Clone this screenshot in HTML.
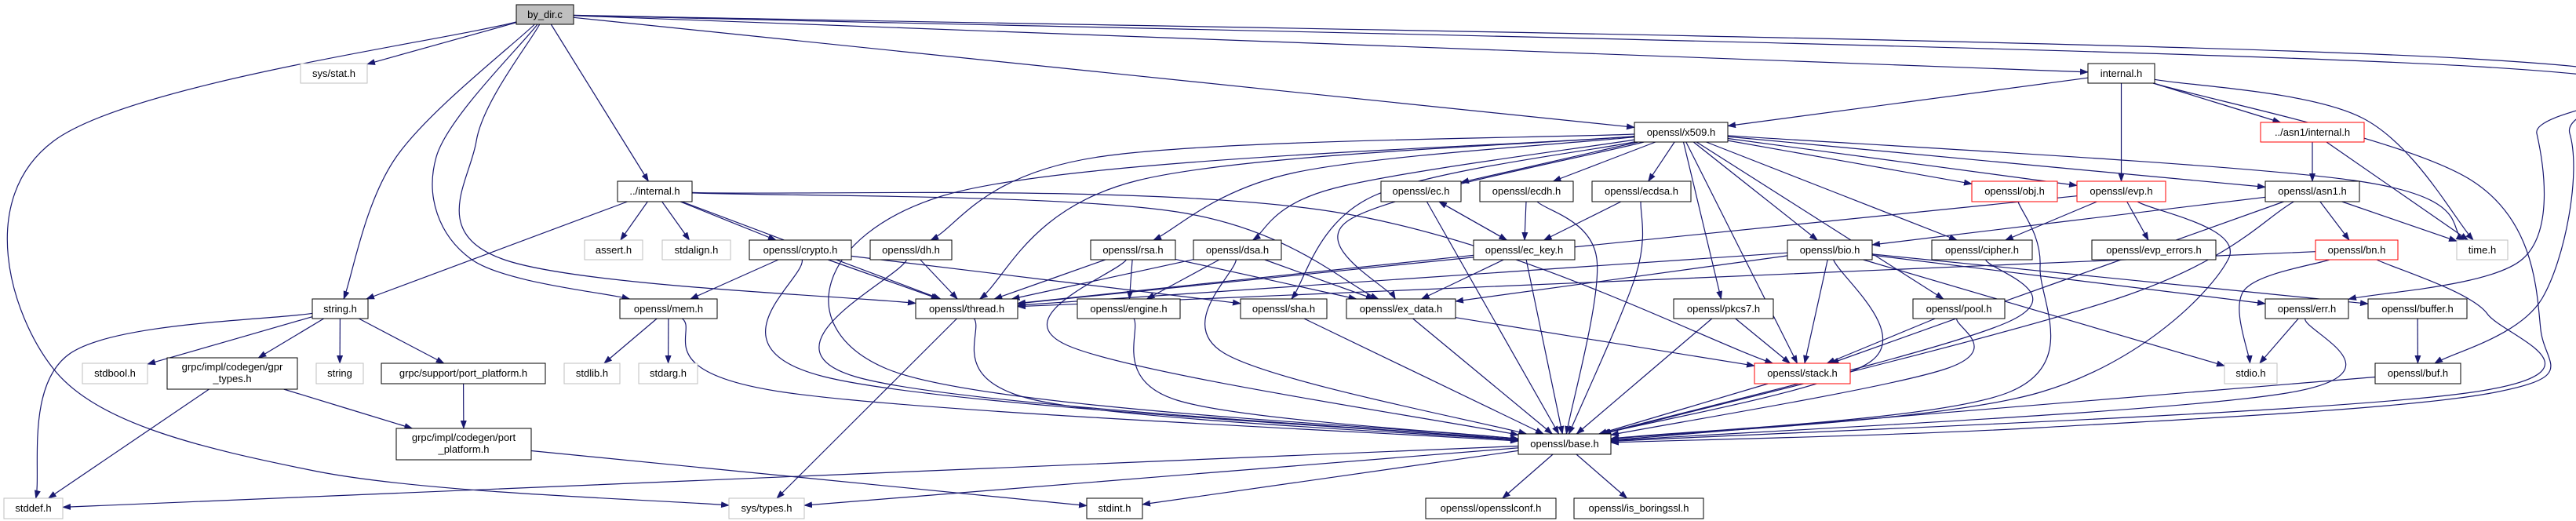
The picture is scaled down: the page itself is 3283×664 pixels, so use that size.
<!DOCTYPE html>
<html><head><meta charset="utf-8"><style>
html,body{margin:0;padding:0;background:#fff;}
svg{display:block;}
text{font-family:"Liberation Sans",sans-serif;font-size:13px;fill:#000;}
</style></head><body>
<svg id="g" width="3283" height="664" viewBox="0 0 3283 664" xmlns="http://www.w3.org/2000/svg">
<defs><marker id="a" markerWidth="11" markerHeight="8" refX="10" refY="4" orient="auto" markerUnits="userSpaceOnUse"><path d="M0,0L11,4L0,8z" fill="#191970"/></marker></defs>
<g id="edges" fill="none" stroke="#191970" stroke-width="1.2"></g>
<g id="nodes">
<rect x="658" y="6" width="73" height="25" fill="#bfbfbf" stroke="#000"/><text x="694.5" y="23" text-anchor="middle">by_dir.c</text>
<rect x="383" y="81" width="85" height="25" fill="#fff" stroke="#bfbfbf"/><text x="425.5" y="98" text-anchor="middle">sys/stat.h</text>
<rect x="2661" y="81" width="85" height="25" fill="#fff" stroke="#000"/><text x="2703.5" y="98" text-anchor="middle">internal.h</text>
<rect x="2083" y="156" width="119" height="25" fill="#fff" stroke="#000"/><text x="2142.5" y="173" text-anchor="middle">openssl/x509.h</text>
<rect x="2881" y="156" width="132" height="25" fill="#fff" stroke="#f00"/><text x="2947" y="173" text-anchor="middle">../asn1/internal.h</text>
<rect x="787" y="231" width="95" height="26" fill="#fff" stroke="#000"/><text x="834.5" y="248" text-anchor="middle">../internal.h</text>
<rect x="1760" y="231" width="102" height="26" fill="#fff" stroke="#000"/><text x="1811" y="248" text-anchor="middle">openssl/ec.h</text>
<rect x="1886" y="231" width="119" height="26" fill="#fff" stroke="#000"/><text x="1945.5" y="248" text-anchor="middle">openssl/ecdh.h</text>
<rect x="2029" y="231" width="126" height="26" fill="#fff" stroke="#000"/><text x="2092" y="248" text-anchor="middle">openssl/ecdsa.h</text>
<rect x="2513" y="231" width="109" height="26" fill="#fff" stroke="#f00"/><text x="2567.5" y="248" text-anchor="middle">openssl/obj.h</text>
<rect x="2647" y="231" width="113" height="26" fill="#fff" stroke="#f00"/><text x="2703.5" y="248" text-anchor="middle">openssl/evp.h</text>
<rect x="2887" y="231" width="120" height="26" fill="#fff" stroke="#000"/><text x="2947" y="248" text-anchor="middle">openssl/asn1.h</text>
<rect x="745" y="306" width="74" height="25" fill="#fff" stroke="#bfbfbf"/><text x="782" y="323" text-anchor="middle">assert.h</text>
<rect x="844" y="306" width="87" height="25" fill="#fff" stroke="#bfbfbf"/><text x="887.5" y="323" text-anchor="middle">stdalign.h</text>
<rect x="955" y="306" width="130" height="25" fill="#fff" stroke="#000"/><text x="1020" y="323" text-anchor="middle">openssl/crypto.h</text>
<rect x="1109" y="306" width="104" height="25" fill="#fff" stroke="#000"/><text x="1161" y="323" text-anchor="middle">openssl/dh.h</text>
<rect x="1390" y="306" width="108" height="25" fill="#fff" stroke="#000"/><text x="1444" y="323" text-anchor="middle">openssl/rsa.h</text>
<rect x="1521" y="306" width="112" height="25" fill="#fff" stroke="#000"/><text x="1577" y="323" text-anchor="middle">openssl/dsa.h</text>
<rect x="1878" y="306" width="129" height="25" fill="#fff" stroke="#000"/><text x="1942.5" y="323" text-anchor="middle">openssl/ec_key.h</text>
<rect x="2278" y="306" width="108" height="25" fill="#fff" stroke="#000"/><text x="2332" y="323" text-anchor="middle">openssl/bio.h</text>
<rect x="2462" y="306" width="128" height="25" fill="#fff" stroke="#000"/><text x="2526" y="323" text-anchor="middle">openssl/cipher.h</text>
<rect x="2666" y="306" width="158" height="25" fill="#fff" stroke="#000"/><text x="2745" y="323" text-anchor="middle">openssl/evp_errors.h</text>
<rect x="2951" y="306" width="105" height="25" fill="#fff" stroke="#f00"/><text x="3003.5" y="323" text-anchor="middle">openssl/bn.h</text>
<rect x="3131" y="306" width="65" height="25" fill="#fff" stroke="#bfbfbf"/><text x="3163.5" y="323" text-anchor="middle">time.h</text>
<rect x="398" y="381" width="71" height="25" fill="#fff" stroke="#000"/><text x="433.5" y="398" text-anchor="middle">string.h</text>
<rect x="790" y="381" width="124" height="25" fill="#fff" stroke="#000"/><text x="852" y="398" text-anchor="middle">openssl/mem.h</text>
<rect x="1167" y="381" width="130" height="25" fill="#fff" stroke="#000"/><text x="1232" y="398" text-anchor="middle">openssl/thread.h</text>
<rect x="1373" y="381" width="131" height="25" fill="#fff" stroke="#000"/><text x="1438.5" y="398" text-anchor="middle">openssl/engine.h</text>
<rect x="1581" y="381" width="110" height="25" fill="#fff" stroke="#000"/><text x="1636" y="398" text-anchor="middle">openssl/sha.h</text>
<rect x="1716" y="381" width="139" height="25" fill="#fff" stroke="#000"/><text x="1785.5" y="398" text-anchor="middle">openssl/ex_data.h</text>
<rect x="2133" y="381" width="127" height="25" fill="#fff" stroke="#000"/><text x="2196.5" y="398" text-anchor="middle">openssl/pkcs7.h</text>
<rect x="2438" y="381" width="117" height="25" fill="#fff" stroke="#000"/><text x="2496.5" y="398" text-anchor="middle">openssl/pool.h</text>
<rect x="2887" y="381" width="106" height="25" fill="#fff" stroke="#000"/><text x="2940" y="398" text-anchor="middle">openssl/err.h</text>
<rect x="3018" y="381" width="126" height="25" fill="#fff" stroke="#000"/><text x="3081" y="398" text-anchor="middle">openssl/buffer.h</text>
<rect x="105" y="463" width="83" height="26" fill="#fff" stroke="#bfbfbf"/><text x="146.5" y="480" text-anchor="middle">stdbool.h</text>
<rect x="213" y="456" width="166" height="40" fill="#fff" stroke="#000"/><text x="296" y="472" text-anchor="middle">grpc/impl/codegen/gpr</text><text x="296" y="487" text-anchor="middle">_types.h</text>
<rect x="403" y="463" width="60" height="26" fill="#fff" stroke="#bfbfbf"/><text x="433" y="480" text-anchor="middle">string</text>
<rect x="486" y="463" width="209" height="26" fill="#fff" stroke="#000"/><text x="590.5" y="480" text-anchor="middle">grpc/support/port_platform.h</text>
<rect x="719" y="463" width="71" height="26" fill="#fff" stroke="#bfbfbf"/><text x="754.5" y="480" text-anchor="middle">stdlib.h</text>
<rect x="814" y="463" width="75" height="26" fill="#fff" stroke="#bfbfbf"/><text x="851.5" y="480" text-anchor="middle">stdarg.h</text>
<rect x="2236" y="463" width="122" height="26" fill="#fff" stroke="#f00"/><text x="2297" y="480" text-anchor="middle">openssl/stack.h</text>
<rect x="2835" y="463" width="67" height="26" fill="#fff" stroke="#bfbfbf"/><text x="2868.5" y="480" text-anchor="middle">stdio.h</text>
<rect x="3027" y="463" width="109" height="26" fill="#fff" stroke="#000"/><text x="3081.5" y="480" text-anchor="middle">openssl/buf.h</text>
<rect x="505" y="546" width="172" height="40" fill="#fff" stroke="#000"/><text x="591" y="562" text-anchor="middle">grpc/impl/codegen/port</text><text x="591" y="577" text-anchor="middle">_platform.h</text>
<rect x="1935" y="553" width="118" height="26" fill="#fff" stroke="#000"/><text x="1994" y="570" text-anchor="middle">openssl/base.h</text>
<rect x="5" y="635" width="75" height="26" fill="#fff" stroke="#bfbfbf"/><text x="42.5" y="652" text-anchor="middle">stddef.h</text>
<rect x="929" y="635" width="96" height="26" fill="#fff" stroke="#bfbfbf"/><text x="977" y="652" text-anchor="middle">sys/types.h</text>
<rect x="1385" y="635" width="71" height="26" fill="#fff" stroke="#000"/><text x="1420.5" y="652" text-anchor="middle">stdint.h</text>
<rect x="1817" y="635" width="166" height="26" fill="#fff" stroke="#000"/><text x="1900" y="652" text-anchor="middle">openssl/opensslconf.h</text>
<rect x="2006" y="635" width="165" height="26" fill="#fff" stroke="#000"/><text x="2088.5" y="652" text-anchor="middle">openssl/is_boringssl.h</text>
</g>
</svg>
<script>
var N={by:[658,6,731,31],sysstat:[383,81,468,106],internal:[2661,81,2746,106],x509:[2083,156,2202,181],asn1int:[2881,156,3013,181],
dotint:[787,231,882,257],ec:[1760,231,1862,257],ecdh:[1886,231,2005,257],ecdsa:[2029,231,2155,257],obj:[2513,231,2622,257],evp:[2647,231,2760,257],asn1:[2887,231,3007,257],
assert:[745,306,819,331],stdalign:[844,306,931,331],crypto:[955,306,1085,331],dh:[1109,306,1213,331],rsa:[1390,306,1498,331],dsa:[1521,306,1633,331],eckey:[1878,306,2007,331],bio:[2278,306,2386,331],cipher:[2462,306,2590,331],evperr:[2666,306,2824,331],bn:[2951,306,3056,331],time:[3131,306,3196,331],
stringh:[398,381,469,406],mem:[790,381,914,406],thread:[1167,381,1297,406],engine:[1373,381,1504,406],sha:[1581,381,1691,406],exdata:[1716,381,1855,406],pkcs7:[2133,381,2260,406],pool:[2438,381,2555,406],err:[2887,381,2993,406],buffer:[3018,381,3144,406],
stdbool:[105,463,188,489],gpr:[213,456,379,496],string:[403,463,463,489],supportpp:[486,463,695,489],stdlib:[719,463,790,489],stdarg:[814,463,889,489],stack:[2236,463,2358,489],stdio:[2835,463,2902,489],buf:[3027,463,3136,489],
implpp:[505,546,677,586],base:[1935,553,2053,579],stddef:[5,635,80,661],systypes:[929,635,1025,661],stdint:[1385,635,1456,661],conf:[1817,635,1983,661],boring:[2006,635,2171,661]};
var E=[
["by","sysstat"],["by","stringh",[[505,200]]],["by","mem",[[556,200],[600,330]]],["by","thread",[[607,180],[640,330]]],["by","dotint"],["by","systypes",[[68,180],[68,470],[400,600]]],["by","x509"],["by","internal"],["by","err",[[3160,85],[3233,170],[3215,330]]],["by","buf",[[3150,75],[3275,170],[3240,380]]],
["internal","x509"],["internal","evp"],["internal","asn1int"],["internal","time",[[3010,150]]],["internal","base",[[3150,230],[3238,420],[3180,500],[2600,545]]],
["asn1int","asn1"],["asn1int","time"],
["x509","ec"],["x509","ecdh"],["x509","ecdsa"],["x509","obj"],["x509","evp"],["x509","asn1"],["x509","dh",[[1400,200]]],["x509","rsa",[[1650,220]]],["x509","dsa",[[1700,240]]],["x509","thread",[[1450,230]]],["x509","sha",[[1750,250]]],["x509","exdata",[[1720,280]]],["x509","bio"],["x509","pkcs7"],["x509","stack"],["x509","pool"],["x509","cipher"],["x509","time",[[3000,230]]],["x509","base",[[1200,250],[1130,470]]],
["dotint","stringh"],["dotint","assert"],["dotint","stdalign"],["dotint","crypto"],["dotint","thread"],["dotint","exdata",[[1500,270]]],["dotint","stack",[[1700,270]]],
["crypto","mem"],["crypto","thread"],["crypto","base",[[1050,480]]],["crypto","sha"],
["dh","thread"],["dh","base",[[1090,480]]],
["rsa","thread"],["rsa","engine"],["rsa","base",[[1360,440]]],["rsa","exdata"],
["dsa","thread"],["dsa","engine"],["dsa","base",[[1560,450]]],["dsa","exdata"],
["ec","eckey"],["ec","base"],["ecdh","eckey"],["ecdh","base",[[2035,330]]],["ecdsa","eckey"],["ecdsa","base",[[2085,350]]],
["eckey","ec"],["eckey","thread"],["eckey","exdata"],["eckey","base"],
["bio","thread"],["bio","exdata"],["bio","stack"],["bio","base",[[2385,460]]],["bio","err"],["bio","stdio"],["bio","buffer"],
["evp","cipher"],["evp","evperr"],["evp","base",[[2840,330],[2600,500]]],["evp","thread"],
["obj","base",[[2600,340],[2560,500]]],
["asn1","bio"],["asn1","bn"],["asn1","time"],["asn1","base",[[2700,380]]],["asn1","stack"],
["bn","thread"],["bn","stdio",[[2860,370]]],["bn","base",[[3170,400],[3150,500]]],
["cipher","base",[[2560,410]]],["pool","stack"],["pool","base",[[2480,470]]],["pkcs7","stack"],["pkcs7","base"],
["stringh","stddef",[[90,450]]],["stringh","stdbool"],["stringh","gpr"],["stringh","string"],["stringh","supportpp"],
["gpr","stddef"],["gpr","implpp"],["supportpp","implpp"],["implpp","stdint"],
["mem","stdlib"],["mem","stdarg"],["mem","base",[[1000,500]]],
["thread","systypes"],["thread","base",[[1320,510]]],["engine","base",[[1500,510]]],["sha","base"],["exdata","base"],["exdata","stack"],
["stack","base"],["err","stdio"],["err","base",[[2920,500]]],["buffer","buf"],["buf","base"],
["base","stddef"],["base","systypes"],["base","stdint"],["base","conf"],["base","boring"]
];
function ctr(b){return[(b[0]+b[2])/2,(b[1]+b[3])/2];}
function clip(b,p){var c=ctr(b),dx=p[0]-c[0],dy=p[1]-c[1],hw=(b[2]-b[0])/2,hh=(b[3]-b[1])/2;
 if(dx==0&&dy==0)return c;var t=Math.min(dx?hw/Math.abs(dx):1e9,dy?hh/Math.abs(dy):1e9);return[c[0]+dx*t,c[1]+dy*t];}
var g=document.getElementById('edges'),s='';
E.forEach(function(e){var A=N[e[0]],B=N[e[1]],v=e[2]||[];
 var ca=ctr(A),cb=ctr(B);
 var first=v.length?v[0]:cb,last=v.length?v[v.length-1]:ca;
 var p0=clip(A,first),pn=clip(B,last);
 var pts=[p0].concat(v,[pn]);
 var d='M'+pts[0][0].toFixed(1)+','+pts[0][1].toFixed(1);
 for(var i=0;i<pts.length-1;i++){var P0=pts[i-1]||pts[i],P1=pts[i],P2=pts[i+1],P3=pts[i+2]||P2;
  var c1=[P1[0]+(P2[0]-P0[0])/6,P1[1]+(P2[1]-P0[1])/6],c2=[P2[0]-(P3[0]-P1[0])/6,P2[1]-(P3[1]-P1[1])/6];
  d+='C'+c1[0].toFixed(1)+','+c1[1].toFixed(1)+' '+c2[0].toFixed(1)+','+c2[1].toFixed(1)+' '+P2[0].toFixed(1)+','+P2[1].toFixed(1);}
 s+='<path d="'+d+'" marker-end="url(#a)"/>';});
g.innerHTML=s;
</script>
</body></html>
